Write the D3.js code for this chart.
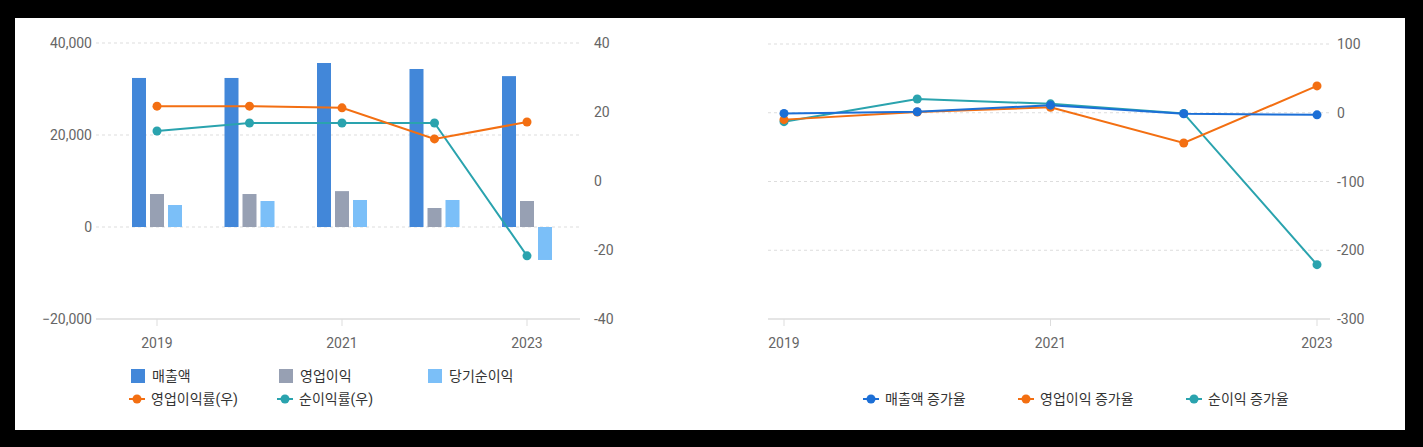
<!DOCTYPE html><html><head><meta charset="utf-8"><script src="https://d3js.org/d3.v7.min.js"></script>
<style>body{margin:0;background:#000;font-family:Roboto,"Noto Sans CJK KR",sans-serif}</style></head><body>
<svg id="c" width="1423" height="447"></svg>
<script>
const years=["2019","2020","2021","2022","2023"];
const sales=[32400,32400,35650,34350,32800];
const opProfit=[7170,7170,7800,4130,5650];
const netProfit=[4780,5650,5870,5870,-7170];
const opMargin=[21.7,21.7,21.2,12.2,17.1];
const netMargin=[14.5,16.8,16.8,16.8,-21.7];
const salesGrowth=[-1,1.5,11,-1.5,-3];
const opGrowth=[-10,1,8,-44,39];
const netGrowth=[-13,20,13,-1,-221];
const leftTicks=[-20000,0,20000,40000], rightTicks=[-40,-20,0,20,40], growthTicks=[-300,-200,-100,0,100];
const tickYears=["2019","2021","2023"];
const C={blue:"#4287d9",gray:"#97a0b3",light:"#7bbff8",orange:"#f36f12",teal:"#2aa3ae",blue2:"#1c6fd6"};
const svg=d3.select("#c");
svg.append("rect").attr("x",15).attr("y",18).attr("width",1390).attr("height",412).attr("fill","#fff");
const tc="#666",fs=14;
// left chart
const x=d3.scalePoint().domain(years).range([157,527]);
const yL=d3.scaleLinear().domain([-20000,40000]).range([319,43]);
const yR=d3.scaleLinear().domain([-40,40]).range([319,43]);
const g=svg.append("g");
leftTicks.forEach(t=>{g.append("line").attr("x1",96).attr("x2",580).attr("y1",yL(t)).attr("y2",yL(t))
 .attr("stroke",t==-20000?"#ddd":"#ddd").attr("stroke-dasharray",t==-20000?null:"3,3").attr("stroke-width",t==-20000?1.5:1);
 g.append("text").attr("x",92).attr("y",yL(t)+5).attr("text-anchor","end").attr("fill",tc).attr("font-size",fs).text(d3.format(",")(t));});
rightTicks.forEach(t=>g.append("text").attr("x",594).attr("y",yR(t)+5).attr("fill",tc).attr("font-size",fs).text(t));
tickYears.forEach(t=>{g.append("line").attr("x1",x(t)).attr("x2",x(t)).attr("y1",319).attr("y2",326).attr("stroke","#ddd");
 g.append("text").attr("x",x(t)).attr("y",348).attr("text-anchor","middle").attr("fill",tc).attr("font-size",fs).text(t);});
const bw=14;
[[sales,C.blue,-25],[opProfit,C.gray,-7],[netProfit,C.light,11]].forEach(([d,c,o])=>{
 g.selectAll(null).data(d).enter().append("rect").attr("x",(v,i)=>x(years[i])+o).attr("width",bw)
  .attr("y",v=>yL(Math.max(0,v))).attr("height",v=>Math.abs(yL(v)-yL(0))).attr("fill",c);});
function line(gr,d,xs,ys,c){const l=d3.line().x((v,i)=>xs(years[i])).y(v=>ys(v));
 gr.append("path").attr("d",l(d)).attr("fill","none").attr("stroke",c).attr("stroke-width",2);
 gr.selectAll(null).data(d).enter().append("circle").attr("cx",(v,i)=>xs(years[i])).attr("cy",v=>ys(v)).attr("r",4.5).attr("fill",c);}
line(g,netMargin,x,yR,C.teal);line(g,opMargin,x,yR,C.orange);
// legend left
function sq(xx,yy,c,t){g.append("rect").attr("x",xx).attr("y",yy-7).attr("width",14).attr("height",14).attr("fill",c);
 g.append("text").attr("x",xx+21).attr("y",yy+5).attr("font-size",fs).attr("fill","#333").text(t);}
function lm(gr,xx,yy,c,t){gr.append("line").attr("x1",xx).attr("x2",xx+16).attr("y1",yy).attr("y2",yy).attr("stroke",c).attr("stroke-width",2);
 gr.append("circle").attr("cx",xx+8).attr("cy",yy).attr("r",4.5).attr("fill",c);
 gr.append("text").attr("x",xx+22).attr("y",yy+5).attr("font-size",fs).attr("fill","#333").text(t);}
sq(131,376,C.blue,"매출액");sq(279,376,C.gray,"영업이익");sq(428,376,C.light,"당기순이익");
lm(g,129,399,C.orange,"영업이익률(우)");lm(g,277,399,C.teal,"순이익률(우)");
// right chart
const x2=d3.scalePoint().domain(years).range([784,1317]);
const y2=d3.scaleLinear().domain([-300,100]).range([319,44]);
const h=svg.append("g");
growthTicks.forEach(t=>{h.append("line").attr("x1",768).attr("x2",1330).attr("y1",y2(t)).attr("y2",y2(t))
 .attr("stroke","#ddd").attr("stroke-dasharray",t==-300?null:"3,3").attr("stroke-width",t==-300?1.5:1);
 h.append("text").attr("x",1337).attr("y",y2(t)+5).attr("fill",tc).attr("font-size",fs).text(t);});
tickYears.forEach(t=>{h.append("line").attr("x1",x2(t)).attr("x2",x2(t)).attr("y1",319).attr("y2",326).attr("stroke","#ddd");
 h.append("text").attr("x",x2(t)).attr("y",348).attr("text-anchor","middle").attr("fill",tc).attr("font-size",fs).text(t);});
line(h,netGrowth,x2,y2,C.teal);line(h,opGrowth,x2,y2,C.orange);line(h,salesGrowth,x2,y2,C.blue2);
lm(h,863,399,C.blue2,"매출액 증가율");lm(h,1018,399,C.orange,"영업이익 증가율");lm(h,1186,399,C.teal,"순이익 증가율");
</script></body></html>
